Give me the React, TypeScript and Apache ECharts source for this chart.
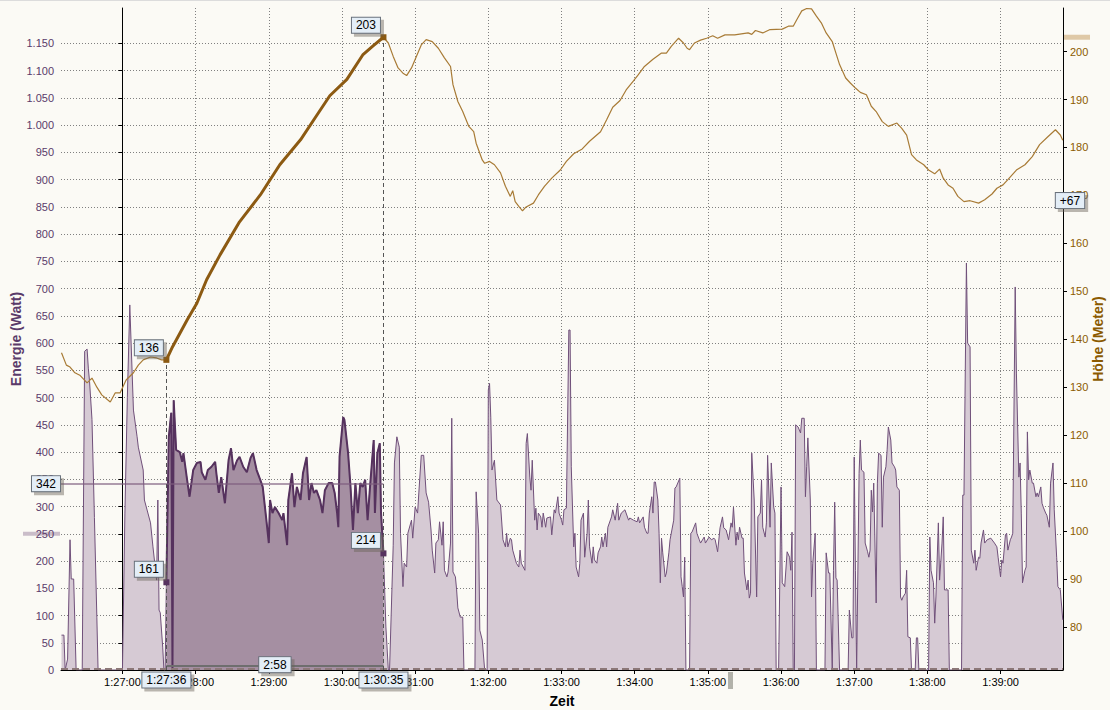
import { useEffect, useRef } from 'react';
import * as echarts from 'echarts';

// ---- time axis: seconds relative to 1:27:00 ----
const BASE_SEC = 5220; // 1:27:00
const xMin = -50.4;
const xMax = 771.2;
const timeTicks = [0, 60, 120, 180, 240, 300, 360, 420, 480, 540, 600, 660, 720];
const powerTicks = [0, 50, 100, 150, 200, 250, 300, 350, 400, 450, 500, 550, 600, 650, 700, 750, 800, 850, 900, 950, 1000, 1050, 1100, 1150];
const elevTicks = [80, 90, 100, 110, 120, 130, 140, 150, 160, 170, 180, 190, 200];

// selection (seconds relative to 1:27:00)
const selection = [36, 214];
const selectionLabels = ['1:27:36', '1:30:35'];
const selectionDuration = '2:58';
const avgSelPower = 342;
const avgAllPower = 250;

// power samples [sec, watt]
const powerSamples: [number, number][] = [
  [-50, 64], [-48, 64], [-47, 0], [-45, 20], [-43, 239], [-42, 167], [-40, 167], [-38, 0], [-33, 0],
  [-31, 585], [-29, 589], [-28, 554], [-27, 530], [-25, 460], [-23, 280], [-21, 97], [-20, 0], [0, 0],
  [2, 288], [4, 500], [6, 670], [9, 477], [12, 428], [13, 409], [17, 367], [18, 312], [23, 270], [25, 226],
  [28, 165], [29, 312], [30, 110], [31, 105], [33, 42], [34, 0], [35, 0],
  [36, 161], [38, 428], [40, 472], [41, 0], [42, 495], [44, 404], [47, 400], [49, 382], [50, 398], [53, 349],
  [55, 318], [58, 367], [61, 380], [64, 382], [65, 363], [68, 349], [70, 367], [73, 373], [76, 382], [77, 361],
  [79, 325], [81, 354], [84, 306], [87, 385], [89, 407], [91, 367], [94, 385], [96, 391], [99, 373], [102, 363],
  [105, 389], [107, 398], [110, 367], [113, 349], [115, 336], [118, 275], [120, 233], [121, 312], [123, 288],
  [125, 299], [128, 288], [131, 275], [132, 288], [135, 229], [136, 312], [139, 361], [141, 299], [143, 336],
  [146, 312], [148, 361], [151, 391], [153, 312], [155, 343], [157, 325], [159, 330], [162, 312], [164, 288],
  [166, 330], [169, 343], [172, 343], [174, 325], [176, 288], [177, 262], [178, 391], [181, 464], [182, 459],
  [185, 398], [187, 336], [189, 257], [191, 343], [193, 288], [195, 343], [197, 336], [199, 349], [201, 275],
  [203, 336], [206, 422], [207, 288], [209, 398], [211, 416], [212, 288], [214, 214],
  [216, 79], [218, 0], [219, 0], [222, 229], [223, 380], [225, 428], [227, 409], [228, 251], [230, 153],
  [231, 196], [233, 189], [234, 251], [237, 275], [238, 242], [240, 299], [242, 288], [243, 325], [245, 394],
  [247, 394], [249, 325], [251, 308], [253, 257], [254, 220], [256, 178], [257, 233], [259, 239], [260, 272],
  [262, 229], [263, 272], [264, 183], [266, 171], [267, 180], [269, 233], [270, 462], [271, 180], [273, 171],
  [274, 147], [275, 114], [277, 97], [279, 97], [280, 0], [289, 0], [290, 327], [292, 251], [293, 73],
  [295, 55], [297, 0], [299, 0], [300, 514], [301, 526], [302, 464], [303, 367], [305, 385], [307, 312],
  [310, 303], [312, 239], [314, 226], [315, 251], [316, 226], [318, 242], [319, 239], [320, 220], [323, 196],
  [325, 189], [326, 220], [327, 196], [330, 183], [331, 416], [332, 434], [334, 354], [335, 330], [336, 385],
  [338, 275], [339, 297], [340, 257], [341, 288], [343, 281], [344, 262], [345, 288], [347, 262], [348, 279],
  [351, 281], [352, 248], [354, 294], [355, 288], [357, 318], [358, 288], [360, 275], [361, 266], [362, 294],
  [364, 297], [366, 624], [367, 624], [368, 373], [370, 226], [371, 251], [372, 189], [374, 171], [375, 196],
  [376, 275], [378, 288], [379, 207], [381, 251], [382, 312], [383, 226], [385, 196], [386, 226], [387, 202],
  [389, 196], [390, 215], [392, 226], [393, 244], [394, 226], [396, 251], [397, 226], [398, 262], [401, 281],
  [402, 294], [404, 275], [406, 306], [407, 275], [409, 288], [412, 294], [415, 275], [416, 279], [419, 275],
  [422, 272], [423, 281], [424, 270], [427, 281], [428, 262], [430, 251], [431, 251], [432, 288], [434, 318],
  [435, 288], [436, 345], [437, 345], [439, 312], [440, 251], [441, 160], [442, 242], [443, 215], [445, 171],
  [446, 178], [448, 215], [449, 239], [452, 275], [453, 334], [454, 336], [457, 352], [458, 171], [459, 153],
  [460, 134], [461, 207], [462, 0], [465, 0], [466, 251], [467, 253], [470, 270], [471, 251], [473, 239],
  [474, 233], [477, 244], [478, 233], [481, 244], [483, 239], [485, 242], [486, 239], [488, 217], [490, 261],
  [492, 281], [493, 261], [495, 257], [497, 239], [499, 270], [500, 262], [501, 299], [503, 229], [504, 253],
  [505, 239], [506, 262], [508, 242], [509, 242], [510, 178], [512, 147], [513, 165], [514, 132], [515, 141],
  [516, 398], [518, 312], [520, 134], [521, 281], [523, 288], [524, 349], [525, 262], [527, 244], [528, 270],
  [529, 394], [531, 262], [532, 380], [534, 299], [535, 288], [536, 0], [538, 0], [540, 336], [541, 160],
  [543, 153], [545, 217], [547, 207], [548, 183], [549, 253], [550, 0], [551, 0], [552, 450], [554, 446],
  [556, 435], [557, 462], [559, 462], [560, 318], [561, 373], [562, 426], [564, 312], [565, 134], [566, 196],
  [568, 251], [569, 0], [576, 0], [577, 215], [579, 178], [580, 178], [582, 0], [583, 183], [584, 308],
  [585, 169], [586, 165], [588, 0], [595, 0], [596, 110], [598, 59], [599, 59], [600, 391], [601, 183],
  [602, 0], [604, 361], [605, 422], [606, 367], [608, 363], [609, 233], [611, 217], [612, 207], [613, 220],
  [614, 330], [615, 290], [616, 343], [618, 123], [619, 343], [620, 398], [622, 394], [623, 262], [624, 354],
  [626, 373], [627, 404], [628, 446], [630, 422], [631, 380], [633, 373], [634, 367], [635, 336], [637, 330],
  [638, 134], [639, 128], [640, 134], [642, 141], [643, 183], [644, 61], [646, 59], [647, 0], [650, 0],
  [651, 59], [652, 59], [653, 0], [661, 0], [662, 244], [663, 183], [665, 160], [666, 86], [667, 134],
  [669, 270], [670, 165], [672, 233], [673, 281], [674, 147], [677, 147], [678, 0], [688, 0], [689, 321],
  [690, 321], [692, 747], [693, 600], [695, 593], [696, 220], [698, 196], [699, 220], [700, 183], [702, 207],
  [703, 205], [704, 233], [706, 257], [707, 233], [709, 239], [712, 242], [715, 233], [717, 226], [718, 207],
  [720, 171], [721, 202], [722, 196], [724, 248], [725, 251], [726, 220], [728, 239], [729, 244], [730, 251],
  [732, 703], [733, 545], [735, 354], [736, 380], [737, 288], [738, 160], [740, 183], [741, 189], [742, 437],
  [743, 349], [744, 367], [746, 343], [747, 343], [749, 318], [750, 325], [751, 318], [753, 336], [754, 306],
  [755, 299], [757, 288], [758, 284], [760, 262], [761, 343], [763, 380], [764, 294], [766, 207], [767, 153],
  [769, 147], [771, 92],
];

// elevation samples [sec, meter]
const elevationSamples: [number, number][] = [
  [-50, 137.2], [-46, 134.6], [-43, 134.2], [-39, 133], [-35, 132.5], [-29, 130.9], [-25, 131.9], [-21, 130],
  [-17, 128.4], [-10, 126.9], [-6, 128.8], [-2, 128.8], [3, 131.5], [9, 133], [13, 134.6], [17, 135.7],
  [23, 136.3], [28, 136.1], [32, 135.7], [36, 135.7], [41, 138.4], [53, 144], [61, 147.5], [69, 152.4],
  [80, 157.6], [96, 164.5], [113, 170.1], [129, 176.4], [146, 181.6], [158, 186.2], [170, 190.8], [184, 194.2],
  [197, 199.3], [205, 201.1], [214, 203], [218, 201.8], [222, 199], [226, 196.6], [230, 195.5], [233, 195],
  [237, 196.6], [241, 199], [245, 201.4], [249, 202.5], [254, 202.1], [259, 200.7], [264, 198.7], [269, 196.9],
  [271, 193.1], [275, 189.6], [279, 187.5], [284, 184.4], [288, 183.3], [290, 180.9], [295, 177.4], [297, 176.7],
  [301, 177.1], [305, 176.4], [310, 174.7], [314, 171.9], [318, 169.8], [320, 171], [322, 168.7], [325, 167.7],
  [328, 166.8], [331, 167.6], [337, 168.4], [341, 170.1], [346, 171.9], [352, 173.6], [359, 175.3], [364, 177.1],
  [370, 178.7], [377, 179.7], [383, 181.3], [392, 183.3], [397, 185.8], [402, 188.4], [408, 189.8], [413, 192],
  [419, 193.9], [423, 195.2], [428, 196.9], [435, 198.4], [442, 199.7], [446, 199.7], [450, 201.1], [456, 202.8],
  [460, 201.8], [463, 200.7], [465, 200.4], [469, 201.8], [474, 202.4], [479, 202.8], [484, 203.3], [488, 202.8],
  [494, 203.5], [502, 203.5], [513, 203.9], [516, 203.6], [519, 204.4], [525, 203.9], [531, 204.6], [541, 204.7],
  [546, 205.3], [550, 205.3], [553, 206.7], [557, 208.5], [561, 209.0], [565, 208.9], [569, 207.4], [573, 206],
  [577, 203.9], [582, 202.1], [585, 199.7], [588, 197.3], [593, 194.5], [597, 193.4], [601, 192.4], [605, 191.5],
  [610, 191], [614, 188.6], [618, 187.5], [623, 185.4], [628, 184.4], [635, 185.1], [639, 184], [643, 182.6],
  [647, 178.5], [651, 177.4], [657, 176.4], [661, 175.3], [666, 174.5], [670, 175.5], [673, 173.6], [677, 172.2],
  [681, 171.5], [685, 169.8], [690, 168.7], [695, 168.9], [702, 168.4], [707, 169.1], [713, 170.3], [717, 171.5],
  [722, 172.2], [726, 173.3], [733, 175.3], [740, 176.4], [746, 178.1], [752, 180.6], [759, 182.3], [765, 183.7],
  [769, 182.6], [771, 181.5],
];

const FONT = '"Liberation Sans", Arial, sans-serif';
const pad2 = (n: number) => (n < 10 ? '0' + n : '' + n);
const fmtTime = (v: number) => {
  const s = Math.round(BASE_SEC + v);
  const h = Math.floor(s / 3600);
  const m = Math.floor((s % 3600) / 60);
  return `${h}:${pad2(m)}:${pad2(s % 60)}`;
};
const fmtWatt = (v: number) => {
  if (v >= 1000) {
    const r = v % 1000;
    return `${Math.floor(v / 1000)}.${r < 10 ? '00' + r : r < 100 ? '0' + r : r}`;
  }
  return String(v);
};

const boxLabel = (text: string, offset: [number, number]) => ({
  show: true,
  position: 'inside',
  offset,
  formatter: text,
  color: '#000',
  fontFamily: FONT,
  fontSize: 12,
  lineHeight: 14,
  backgroundColor: '#e4eef7',
  borderColor: '#6a727c',
  borderWidth: 1,
  padding: [1, 4, 0, 4],
  shadowColor: 'rgba(105,98,88,0.45)',
  shadowOffsetX: 3,
  shadowOffsetY: 3,
  shadowBlur: 0,
});

const hiddenSym = { symbol: 'rect', symbolSize: 1, itemStyle: { color: 'rgba(0,0,0,0)' } };

function buildOption() {
  const [selStart, selEnd] = selection;
  const powerSel = powerSamples.filter(([t]) => t >= selStart && t <= selEnd);
  const elevSel = elevationSamples.filter(([t]) => t >= selStart && t <= selEnd);
  const pStart = powerSel[0][1];
  const pEnd = powerSel[powerSel.length - 1][1];
  const eStart = elevSel[0][1];
  const eEnd = elevSel[elevSel.length - 1][1];
  const elevMin = 71;
  const elevMax = 209.1;

  return {
    animation: false,
    backgroundColor: '#fbfaf5',
    textStyle: { fontFamily: FONT },
    grid: { left: 61, right: 47, top: 8, bottom: 40, containLabel: false, outerBoundsMode: 'none' },
    xAxis: {
      type: 'value',
      min: xMin,
      max: xMax,
      name: 'Zeit',
      nameLocation: 'middle',
      nameGap: 24,
      nameMoveOverlap: false,
      nameTextStyle: { color: '#000', fontWeight: 'bold', fontSize: 14, fontFamily: FONT },
      axisLine: { show: true, onZero: false, lineStyle: { color: '#000', width: 1 } },
      axisTick: { show: true, length: 4, customValues: timeTicks, lineStyle: { color: '#000' } },
      axisLabel: { customValues: timeTicks, formatter: fmtTime, color: '#000', fontSize: 11, fontFamily: FONT, margin: 6 },
      splitLine: { show: true, lineStyle: { color: '#808080', type: [1, 2], width: 1 } },
    },
    yAxis: [
      {
        type: 'value',
        position: 'left',
        min: 0,
        max: 1215,
        name: 'Energie (Watt)',
        nameLocation: 'middle',
        nameRotate: 90,
        nameGap: 38,
        nameMoveOverlap: false,
        nameTextStyle: { color: '#5a3a6a', fontWeight: 'bold', fontSize: 14, fontFamily: FONT },
        axisLine: { show: true, lineStyle: { color: '#000', width: 1 } },
        axisTick: { show: true, length: 4, customValues: powerTicks, lineStyle: { color: '#000' } },
        axisLabel: { customValues: powerTicks, formatter: fmtWatt, color: '#5a3a6a', fontSize: 11, fontFamily: FONT, margin: 7 },
        splitLine: { show: true, lineStyle: { color: '#808080', type: [1, 2], width: 1 } },
      },
      {
        type: 'value',
        position: 'right',
        min: elevMin,
        max: elevMax,
        name: 'Höhe (Meter)',
        nameLocation: 'middle',
        nameRotate: 90,
        nameGap: 28,
        nameMoveOverlap: false,
        nameTextStyle: { color: '#8b5a00', fontWeight: 'bold', fontSize: 14, fontFamily: FONT },
        axisLine: { show: true, lineStyle: { color: '#000', width: 1 } },
        axisTick: { show: true, length: 4, customValues: elevTicks, lineStyle: { color: '#000' } },
        axisLabel: { customValues: elevTicks, color: '#8b5a00', fontSize: 11, fontFamily: FONT, margin: 7 },
        splitLine: { show: false },
      },
    ],
    series: [
      {
        name: 'Energie',
        type: 'line',
        yAxisIndex: 0,
        data: powerSamples,
        symbol: 'none',
        lineStyle: { color: '#70507a', width: 1 },
        areaStyle: { color: '#d6cad4', opacity: 1 },
        z: 2,
        markLine: {
          silent: true,
          symbol: ['none', 'none'],
          label: { show: false },
          data: [
            [
              { coord: [xMin, avgSelPower], lineStyle: { color: 'rgba(125,92,125,0.6)', width: 2, type: 'solid' } },
              { coord: [selEnd, avgSelPower] },
            ],
            [
              { coord: [xMin, 2], lineStyle: { color: '#8c7878', width: 2, type: [7, 4] } },
              { coord: [xMax, 2] },
            ],
          ],
        },
        markPoint: {
          silent: true,
          data: [
            { coord: [xMin, avgSelPower], ...hiddenSym, label: boxLabel(String(avgSelPower), [-15, 0]) },
          ],
        },
      },
      {
        name: 'Auswahl',
        type: 'line',
        yAxisIndex: 0,
        data: powerSel,
        symbol: 'none',
        lineStyle: { color: '#56325e', width: 2 },
        areaStyle: { color: '#a58fa2', opacity: 1 },
        z: 3,
        markLine: {
          silent: true,
          symbol: ['none', 'none'],
          label: { show: false },
          data: [
            [
              { coord: [selStart, 8], lineStyle: { color: '#6e6e6e', width: 2, type: 'solid' } },
              { coord: [selEnd, 8] },
            ],
          ],
        },
        markPoint: {
          silent: true,
          data: [
            { coord: [(selStart + selEnd) / 2, 8], ...hiddenSym, label: boxLabel(selectionDuration, [0, -1]) },
            { coord: [selStart, pStart], symbol: 'rect', symbolSize: 6, itemStyle: { color: '#56325e' }, label: boxLabel(String(Math.round(pStart)), [-17.5, -13]) },
            { coord: [selEnd, pEnd], symbol: 'rect', symbolSize: 6, itemStyle: { color: '#56325e' }, label: boxLabel(String(Math.round(pEnd)), [-17.5, -13]) },
          ],
        },
      },
      {
        name: 'Höhe',
        type: 'line',
        yAxisIndex: 1,
        data: elevationSamples,
        symbol: 'none',
        lineStyle: { color: '#a87b36', width: 1.2 },
        z: 4,
        markLine: {
          silent: true,
          symbol: ['none', 'none'],
          label: { show: false },
          lineStyle: { color: '#555555', width: 1, type: [4, 3] },
          data: [
            [{ coord: [selStart, elevMin] }, { coord: [selStart, eStart] }],
            [{ coord: [selEnd, elevMin] }, { coord: [selEnd, eEnd] }],
          ],
        },
        markPoint: {
          silent: true,
          data: [
            { coord: [selStart, elevMin], ...hiddenSym, label: boxLabel(selectionLabels[0], [0, 10]) },
            { coord: [selEnd, elevMin], ...hiddenSym, label: boxLabel(selectionLabels[1], [0, 10]) },
            { coord: [xMax, (eStart + eEnd) / 2], ...hiddenSym, label: boxLabel(`+${Math.round(eEnd - eStart)}`, [7, 2]) },
          ],
        },
      },
      {
        name: 'Höhe Auswahl',
        type: 'line',
        yAxisIndex: 1,
        data: elevSel,
        symbol: 'none',
        lineStyle: { color: '#8c5a12', width: 3 },
        z: 5,
        markPoint: {
          silent: true,
          data: [
            { coord: [selStart, eStart], symbol: 'rect', symbolSize: 6, itemStyle: { color: '#8c5a12' }, label: boxLabel(String(Math.round(eStart)), [-17.5, -12]) },
            { coord: [selEnd, eEnd], symbol: 'rect', symbolSize: 6, itemStyle: { color: '#8c5a12' }, label: boxLabel(String(Math.round(eEnd)), [-17.5, -12]) },
          ],
        },
      },
    ],
  };
}

export default function App() {
  const ref = useRef<HTMLDivElement>(null);
  useEffect(() => {
    if (!ref.current) return;
    const chart = echarts.init(ref.current, undefined, { renderer: 'svg' });
    chart.setOption(buildOption() as any);
    const yAvgAll = chart.convertToPixel({ yAxisIndex: 0 } as any, avgAllPower) as number;
    const eEnd = elevationSamples.filter(([t]) => t <= selection[1]).slice(-1)[0][1];
    const yElevEnd = chart.convertToPixel({ yAxisIndex: 1 } as any, eEnd) as number;
    chart.setOption({
      graphic: [
        { type: 'line', shape: { x1: 0, y1: 0.5, x2: 1110, y2: 0.5 }, style: { stroke: '#dcdcdc', lineWidth: 1 }, silent: true },
        { type: 'rect', shape: { x: 23, y: yAvgAll - 2, width: 37, height: 4 }, style: { fill: '#cabdc9' }, silent: true },
        { type: 'rect', shape: { x: 1064, y: yElevEnd - 2.5, width: 26, height: 5 }, style: { fill: '#dfc9a7' }, silent: true },
        { type: 'rect', shape: { x: 728, y: 672, width: 5, height: 17 }, style: { fill: '#b2b2aa' }, silent: true },
      ],
    } as any);
    return () => chart.dispose();
  }, []);
  return <div ref={ref} style={{ position: 'fixed', left: 0, top: 0, width: 1110, height: 710 }} />;
}
